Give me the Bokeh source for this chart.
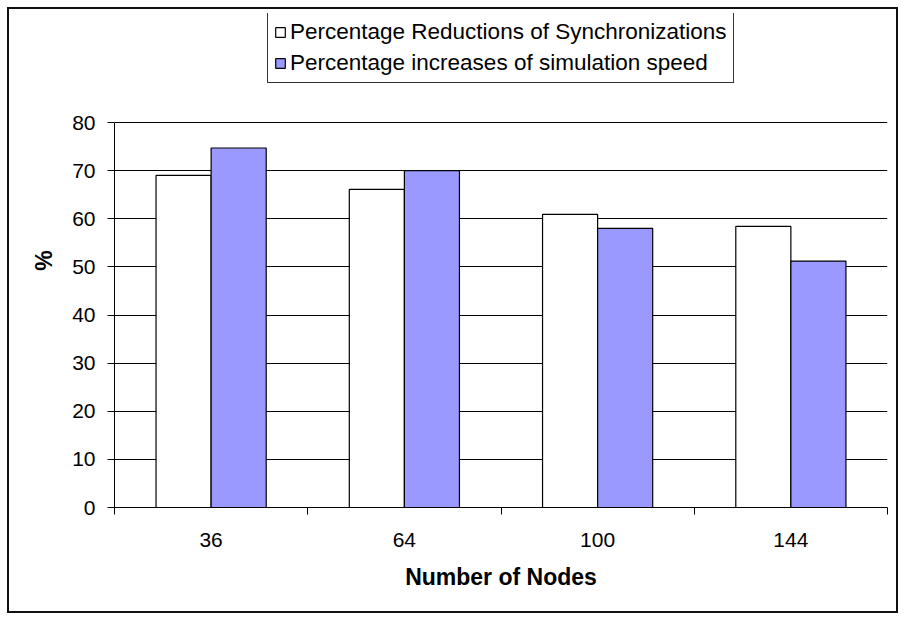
from bokeh.plotting import figure
from bokeh.models import ColumnDataSource, FixedTicker, Legend, LegendItem, Range1d
from bokeh.transform import dodge
from bokeh.embed import file_html
from bokeh.resources import INLINE

nodes = ["36", "64", "100", "144"]
sync_reduction = [69.0, 66.1, 60.9, 58.4]
speed_increase = [74.7, 70.0, 58.0, 51.2]
y_ticks = [0, 10, 20, 30, 40, 50, 60, 70, 80]
series_names = ["Percentage Reductions of Synchronizations",
                "Percentage increases of simulation speed"]

xpos = [i + 0.5 for i in range(len(nodes))]
src = ColumnDataSource(dict(x=xpos, sync=sync_reduction, speed=speed_increase))

FONT = "Liberation Sans"

# layout geometry (pixels): frame extends above the 80 line so the legend fits inside it
W, H = 891, 606
MB_LEFT, MB_RIGHT, MB_TOP, MB_BOTTOM = 105, 13, 4, 108
PLOT_AREA_H = 385  # height of the 0..80 value area
frame_h = H - MB_TOP - MB_BOTTOM
y_axis_max = y_ticks[-1]
y_end = y_axis_max * frame_h / PLOT_AREA_H

p = figure(width=W, height=H, output_backend="svg", toolbar_location=None,
           x_range=Range1d(0, len(nodes)), y_range=Range1d(0, y_end),
           min_border_left=MB_LEFT, min_border_right=MB_RIGHT,
           min_border_top=MB_TOP, min_border_bottom=MB_BOTTOM)
p.styles = {"border": "2px solid #111111", "margin": "7px 0px 0px 7px"}
p.outline_line_color = None
p.background_fill_color = "white"
p.border_fill_color = "white"

r1 = p.vbar(x=dodge("x", -0.1425, range=p.x_range), top="sync", width=0.285,
            source=src, fill_color="white", line_color="black", line_width=1.2)
r2 = p.vbar(x=dodge("x", 0.1425, range=p.x_range), top="speed", width=0.285,
            source=src, fill_color="#9999FF", line_color="black", line_width=1.2)

# x axis: labels at centers, ticks at category boundaries
p.xaxis.ticker = FixedTicker(ticks=xpos, minor_ticks=list(range(len(nodes) + 1)))
p.xaxis.major_label_overrides = {x: n for x, n in zip(xpos, nodes)}
p.xaxis.major_tick_in = 0
p.xaxis.major_tick_out = 0
p.xaxis.minor_tick_in = 0
p.xaxis.minor_tick_out = 7
p.xaxis.minor_tick_line_color = "black"
p.xaxis.axis_line_color = "black"
p.xaxis.major_label_standoff = 18
p.xaxis.axis_label = "Number of Nodes"
p.xaxis.axis_label_standoff = 14

p.yaxis.ticker = FixedTicker(ticks=y_ticks)
p.yaxis.bounds = (0, y_axis_max)
p.yaxis.major_tick_in = 0
p.yaxis.major_tick_out = 7
p.yaxis.minor_tick_line_color = None
p.yaxis.major_tick_line_color = "black"
p.yaxis.axis_line_color = "black"
p.yaxis.major_label_standoff = 12
p.yaxis.axis_label = "%"
p.yaxis.axis_label_standoff = 12

for ax in (p.xaxis, p.yaxis):
    ax.major_label_text_font = FONT
    ax.major_label_text_font_size = "21px"
    ax.major_label_text_color = "black"
    ax.axis_label_text_font = FONT
    ax.axis_label_text_font_size = "23px"
    ax.axis_label_text_font_style = "bold"
    ax.axis_label_text_color = "black"

p.xgrid.grid_line_color = None
p.ygrid.ticker = FixedTicker(ticks=y_ticks)
p.ygrid.grid_line_color = "black"
p.ygrid.grid_line_width = 1

legend = Legend(items=[LegendItem(label=series_names[0], renderers=[r1]),
                       LegendItem(label=series_names[1], renderers=[r2])],
                location=(153, 424), orientation="vertical")
legend.label_text_font = FONT
legend.label_text_font_size = "22.5px"
legend.label_text_color = "black"
legend.glyph_width = 12
legend.glyph_height = 12
legend.label_standoff = 4
legend.spacing = 5
legend.padding = 6
legend.margin = 0
legend.border_line_color = "#333333"
legend.border_line_alpha = 1
legend.border_line_width = 1
legend.background_fill_color = "white"
legend.background_fill_alpha = 1
p.add_layout(legend, "center")

open("out.html", "w").write(file_html(p, INLINE))
